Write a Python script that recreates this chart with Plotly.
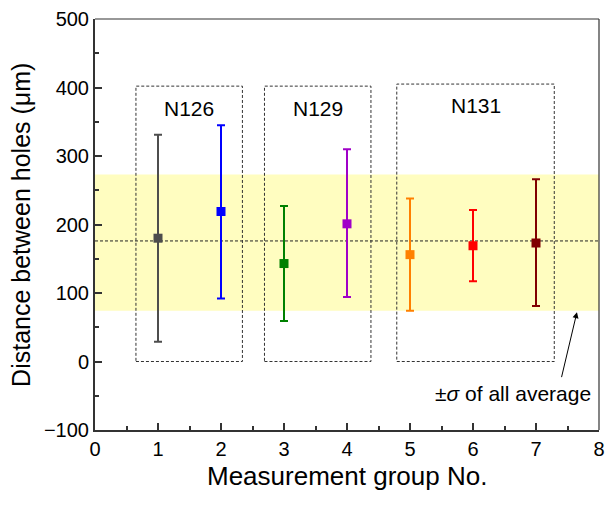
import plotly.graph_objects as go

# ---- data ----
groups = [1, 2, 3, 4, 5, 6, 7]
means = [180, 219, 143, 201, 156, 169, 173]
upper = [331, 345, 227, 310, 238, 221, 266]
lower = [29, 92, 59, 94, 74, 117, 81]
colors = ["#4D4D4D", "#0000FF", "#008000", "#A000C8", "#FF8000", "#FF0000", "#800000"]

overall_mean = 176
band_low = 74
band_high = 273

box_labels = ["N126", "N129", "N131"]
box_x0 = [0.65, 2.69, 4.79]
box_x1 = [2.34, 4.38, 7.29]
box_top = [402, 402, 405]

FONT = "Liberation Sans, Arial, sans-serif"

fig = go.Figure()

for g, m, up, lo, c in zip(groups, means, upper, lower, colors):
    fig.add_trace(go.Scatter(
        x=[g], y=[m], mode="markers",
        marker=dict(symbol="square", size=9, color=c),
        error_y=dict(type="data", symmetric=False, array=[up - m], arrayminus=[m - lo],
                     color=c, thickness=2, width=4),
        showlegend=False,
    ))

shapes = []
# yellow band
shapes.append(dict(type="rect", xref="x", yref="y", x0=0, x1=8, y0=band_low, y1=band_high,
                   fillcolor="#FFFDC0", line=dict(width=0), layer="below"))
# mean line
shapes.append(dict(type="line", xref="x", yref="y", x0=0, x1=8, y0=overall_mean, y1=overall_mean,
                   line=dict(color="#222222", width=1, dash="3px,2px"), layer="below"))
# group boxes
for x0, x1, top in zip(box_x0, box_x1, box_top):
    shapes.append(dict(type="rect", xref="x", yref="y", x0=x0, x1=x1, y0=0, y1=top,
                       line=dict(color="#333333", width=1, dash="3px,2px"), layer="below"))
# top / right frame
shapes.append(dict(type="line", xref="paper", yref="paper", x0=0, x1=1, y0=1, y1=1,
                   line=dict(color="#333333", width=1.2)))
shapes.append(dict(type="line", xref="paper", yref="paper", x0=1, x1=1, y0=0, y1=1,
                   line=dict(color="#333333", width=1.2)))

annotations = []
for lab, x0, x1, top in zip(box_labels, box_x0, box_x1, box_top):
    annotations.append(dict(x=(x0 + x1) / 2, y=top - 32, xref="x", yref="y", text=lab,
                            showarrow=False, font=dict(family=FONT, size=21, color="black")))
annotations.append(dict(x=7.65, y=72, ax=7.40, ay=-25, xref="x", yref="y", axref="x", ayref="y",
                        text="", showarrow=True, arrowhead=2, arrowsize=1.2, arrowwidth=1,
                        arrowcolor="black"))
annotations.append(dict(x=6.64, y=-46, xref="x", yref="y", text="±<i>σ</i> of all average",
                        showarrow=False, font=dict(family=FONT, size=21, color="black")))
# axis titles
annotations.append(dict(x=0.5, y=-0.112, xref="paper", yref="paper", text="Measurement group No.",
                        showarrow=False, xanchor="center", yanchor="middle",
                        font=dict(family=FONT, size=26, color="black")))
annotations.append(dict(x=-0.148, y=0.5, xref="paper", yref="paper",
                        text="Distance between holes (μm)", textangle=-90,
                        showarrow=False, xanchor="center", yanchor="middle",
                        font=dict(family=FONT, size=25, color="black")))

axis_common = dict(
    showgrid=False, zeroline=False, showline=True, linewidth=2, linecolor="#333333",
    ticks="inside", ticklen=7, tickwidth=1.5, tickcolor="#333333",
    tickfont=dict(family=FONT, size=20, color="black"),
)

fig.update_layout(
    width=613, height=506,
    margin=dict(l=95, r=8, t=17, b=76),
    paper_bgcolor="white", plot_bgcolor="white",
    shapes=shapes, annotations=annotations,
    xaxis=dict(range=[0, 8], dtick=1, tick0=0, ticklabelstandoff=0,
               minor=dict(ticks="inside", ticklen=4, dtick=0.5, tickwidth=1.5, tickcolor="#333333"),
               **axis_common),
    yaxis=dict(range=[-100, 500], dtick=100, tick0=0,
               minor=dict(ticks="inside", ticklen=4, dtick=50, tickwidth=1.5, tickcolor="#333333"),
               **axis_common),
)

fig.write_html("out.html")
